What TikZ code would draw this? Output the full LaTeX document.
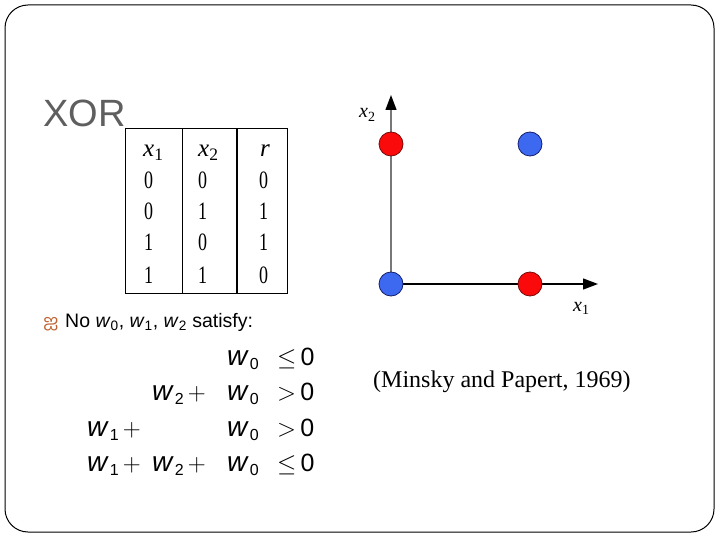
\documentclass[tikz,border=0pt]{standalone}
\usepackage{fontspec}
\setmainfont{Liberation Serif}
\newfontfamily\arial{Liberation Sans}
\newfontfamily\narrowserif[FakeStretch=0.72]{Liberation Serif}
\newfontfamily\tamilf[Script=Tamil]{Hind Madurai}
\usetikzlibrary{arrows.meta}
\definecolor{xorgray}{RGB}{95,95,95}
\definecolor{axisgray}{RGB}{120,120,120}
\definecolor{ptred}{RGB}{250,10,10}
\definecolor{ptredline}{RGB}{120,10,10}
\definecolor{ptblue}{RGB}{60,105,240}
\definecolor{ptblueline}{RGB}{20,30,110}
\definecolor{bulletc}{RGB}{190,100,50}
\newcommand\wv[1]{\textit{w}\textsubscript{#1}}
\newcommand\wbig[1]{{\fontsize{28}{30}\selectfont\textit{w}}\kern1pt\raisebox{-4pt}{\fontsize{16}{18}\selectfont #1}}
\newcommand\xv[1]{\textit{x}\textsubscript{#1}}
\tikzset{
  txt/.style={inner sep=0pt, anchor=base west},
  tabtxt/.style={txt, font=\narrowserif\fontsize{25}{28}\selectfont},
  hdtxt/.style={txt, font=\fontsize{25}{28}\selectfont},
  eqtxt/.style={txt, font=\arial\fontsize{25}{28}\selectfont},
  pt/.style={circle, inner sep=0pt, minimum size=24pt, line width=0.8pt},
  redpt/.style={pt, fill=ptred, draw=ptredline},
  bluept/.style={pt, fill=ptblue, draw=ptblueline},
  axtip/.style={-{Triangle[length=15pt,width=11pt,black]}}
}
\begin{document}
\begin{tikzpicture}[x=1pt,y=-1pt]
\useasboundingbox (0,0) rectangle (720,540);
\draw[rounded corners=23pt, line width=1pt] (5,5) rectangle (714,532);

% title
\node[txt, font=\arial\fontsize{38}{42}\selectfont, text=xorgray] (title) at (43,127) {XOR};

% table
\draw[line width=1pt] (125,129) rectangle (287,293);
\draw[line width=1pt] (182,129) -- (182,293);
\draw[line width=2pt] (237,129) -- (237,293);
\node[hdtxt] (h1) at (143,157) {\xv{1}};
\node[hdtxt] (h2) at (198,157) {\xv{2}};
\node[hdtxt] (h3) at (260,157) {\textit{r}};
\node[tabtxt] (a1) at (144,189) {0};
\node[tabtxt] (a2) at (198,189) {0};
\node[tabtxt] (a3) at (259,189) {0};
\node[tabtxt] (b1) at (144,220) {0};
\node[tabtxt] (b2) at (198,220) {1};
\node[tabtxt] (b3) at (259,220) {1};
\node[tabtxt] (c1) at (144,251) {1};
\node[tabtxt] (c2) at (198,251) {0};
\node[tabtxt] (c3) at (259,251) {1};
\node[tabtxt] (d1) at (144,283) {1};
\node[tabtxt] (d2) at (198,283) {1};
\node[tabtxt] (d3) at (259,283) {0};

% plot
\coordinate (O) at (391,284);
\coordinate (ytip) at (391,95);
\coordinate (xtip) at (598,284);
\draw[axisgray, line width=1.3pt, axtip] (O) -- (ytip);
\draw[black, line width=1.3pt, axtip] (O) -- (xtip);
\node[redpt] (p01) at (391,144) {};
\node[bluept] (p11) at (530,144) {};
\node[bluept] (p00) at (391,284) {};
\node[redpt] (p10) at (530,284) {};
\node[txt, font=\fontsize{20}{22}\selectfont] (lx2) at (359,118) {\xv{2}};
\node[txt, font=\fontsize{20}{22}\selectfont] (lx1) at (573,311) {\xv{1}};

% bullet line
\node[txt, font=\tamilf\fontsize{18}{20}\selectfont, text=bulletc] (bul) at (43,327) {ஐ};
\node[txt, font=\arial\fontsize{19.5}{22}\selectfont] (cond) at (65,327) {No \wv{0}, \wv{1}, \wv{2} satisfy:};

% equations
\node[eqtxt] (r1w0) at (227,365) {\wbig{0}};
\node[eqtxt] (r1r) at (277,365) {$\leq$\,0};
\node[eqtxt] (r2w2) at (152,400) {\wbig{2}\,$+$};
\node[eqtxt] (r2w0) at (227,400) {\wbig{0}};
\node[eqtxt] (r2r) at (277,400) {$>$\,0};
\node[eqtxt] (r3w1) at (87,436) {\wbig{1}\,$+$};
\node[eqtxt] (r3w0) at (227,436) {\wbig{0}};
\node[eqtxt] (r3r) at (277,436) {$>$\,0};
\node[eqtxt] (r4w1) at (87,471) {\wbig{1}\,$+$};
\node[eqtxt] (r4w2) at (152,471) {\wbig{2}\,$+$};
\node[eqtxt] (r4w0) at (227,471) {\wbig{0}};
\node[eqtxt] (r4r) at (277,471) {$\leq$\,0};

% citation
\node[txt, font=\fontsize{24}{28}\selectfont] (cite) at (373,387) {(Minsky and Papert, 1969)};
\end{tikzpicture}
\end{document}
